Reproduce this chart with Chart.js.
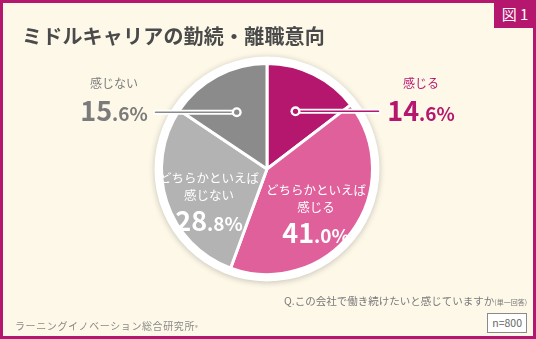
<!DOCTYPE html>
<html lang="ja">
<head>
<meta charset="utf-8">
<script src="https://cdn.jsdelivr.net/npm/chart.js@4.4.1/dist/chart.umd.min.js"></script>
<style>
  html, body { margin: 0; padding: 0; }
  body {
    width: 536px; height: 339px; overflow: hidden;
    font-family: "Noto Sans CJK JP", "Noto Sans", sans-serif;
  }
  #frame {
    position: relative; width: 536px; height: 339px; box-sizing: border-box;
    background: #fdf8e8; border: 3px solid #b5176f;
  }
  #chartWrap { position: absolute; left: -3px; top: -3px; width: 536px; height: 339px; }
  .abs { position: absolute; white-space: nowrap; }
  #title { left: 19px; top: 18px; font-size: 20px; font-weight: 700; color: #4a4a4a; letter-spacing: 0.2px; }
  #fig { right: -3px; top: -3px; width: 42px; height: 28px; background: #b5176f; color: #fff;
         font-size: 15px; line-height: 28px; text-align: center; }
  .cat { font-size: 12px; }
  .pct { font-weight: 700; font-size: 27px; line-height: 1; }
  .pct small { font-size: 19px; }
  .in { color: #fff; text-align: center; line-height: 17px; }
  .in .cat { font-size: 12.5px; }
  #q { right: 6px; top: 290px; font-size: 10.5px; color: #7a7a7a; }
  #q small { font-size: 7px; }
  #org { left: 12px; top: 315px; font-size: 10px; color: #8a8a8a; letter-spacing: 0.6px; }
  #org small { font-size: 6px; }
  #n { right: 6px; top: 310px; border: 1px solid #8a8a8a; background: #fff; color: #666;
       font-size: 10.5px; padding: 1px 4px; line-height: 16px; }
</style>
</head>
<body>
<div id="frame">
  <div id="chartWrap"><canvas id="chartCanvas"></canvas></div>
  <div class="abs" id="title">ミドルキャリアの勤続・離職意向</div>
  <div class="abs" id="fig">図 1</div>
  <div id="labels"></div>
  <div class="abs" id="q">Q.この会社で働き続けたいと感じていますか<small>(単一回答)</small></div>
  <div class="abs" id="org">ラーニングイノベーション総合研究所<small>®</small></div>
  <div class="abs" id="n">n=800</div>
</div>
<script>
// answers, clockwise from 12 o'clock
const categories = ['感じる', 'どちらかといえば感じる', 'どちらかといえば感じない', '感じない'];
const shares = [14.6, 41.0, 28.8, 15.6];
const sliceColors = ['#b5176f', '#df609b', '#b3b3b3', '#8b8b8b'];
const lineLabels = [0, 3]; // slices labelled outside with a leader line

function pctHtml(v) {
    const [i, d] = v.toFixed(1).split('.');
    return `${i}<small>.${d}%</small>`;
}

// white rim + drop shadow behind the pie
const rimPlugin = {
    id: 'rim',
    beforeDatasetsDraw(chart) {
        const arc = chart.getDatasetMeta(0).data[0];
        const ctx = chart.ctx;
        ctx.save();
        ctx.shadowColor = 'rgba(0,0,0,0.22)';
        ctx.shadowBlur = 6;
        ctx.shadowOffsetY = 1;
        ctx.fillStyle = '#ffffff';
        ctx.beginPath();
        ctx.arc(arc.x, arc.y, arc.outerRadius + 7, 0, Math.PI * 2);
        ctx.fill();
        ctx.restore();
    }
};

// leader lines from inside the slice out past the rim
const leaderPlugin = {
    id: 'leader',
    afterDatasetsDraw(chart) {
        const meta = chart.getDatasetMeta(0);
        const ctx = chart.ctx;
        lineLabels.forEach(idx => {
            const a = meta.data[idx];
            const mid = (a.startAngle + a.endAngle) / 2;
            const r = a.outerRadius * 0.61;
            const x0 = a.x + Math.cos(mid) * r;
            const y0 = a.y + Math.sin(mid) * r;
            const x1 = a.x + Math.sign(Math.cos(mid)) * (a.outerRadius + 6);
            ctx.save();
            ctx.lineCap = 'round';
            ctx.strokeStyle = '#ffffff';
            ctx.lineWidth = 5;
            ctx.beginPath(); ctx.moveTo(x0, y0); ctx.lineTo(x1, y0); ctx.stroke();
            ctx.strokeStyle = sliceColors[idx];
            ctx.lineWidth = 1.6;
            ctx.beginPath(); ctx.moveTo(x0, y0); ctx.lineTo(x1, y0); ctx.stroke();
            ctx.fillStyle = '#ffffff';
            ctx.beginPath(); ctx.arc(x0, y0, 5, 0, Math.PI * 2); ctx.fill();
            ctx.fillStyle = sliceColors[idx];
            ctx.beginPath(); ctx.arc(x0, y0, 2.6, 0, Math.PI * 2); ctx.fill();
            ctx.restore();
        });
    }
};

const chart = new Chart(document.getElementById('chartCanvas'), {
    type: 'pie',
    data: {
        labels: categories,
        datasets: [{
            data: shares,
            backgroundColor: sliceColors,
            borderColor: '#ffffff',
            borderWidth: 3,
            hoverOffset: 0
        }]
    },
    options: {
        responsive: true,
        maintainAspectRatio: false,
        animation: false,
        events: [],
        layout: { padding: { left: 160, right: 162, top: 62, bottom: 63 } },
        plugins: { legend: { display: false }, tooltip: { enabled: false } }
    },
    plugins: [rimPlugin, leaderPlugin]
});

// text labels, one block per slice
const labelSpots = [
    { left: 382, top: 71, color: '#b5176f', cls: 'out', w: 72 },
    { left: 258, top: 178, color: '#fff', cls: 'in', w: 110 },
    { left: 151, top: 166, color: '#fff', cls: 'in', w: 110 },
    { left: 75, top: 71, color: '#7b7b7b', cls: 'out', w: 72 }
];
const box = document.getElementById('labels');
categories.forEach((c, i) => {
    const s = labelSpots[i];
    const el = document.createElement('div');
    el.className = 'abs' + (s.cls === 'in' ? ' in' : '');
    el.style.left = s.left + 'px';
    el.style.top = s.top + 'px';
    el.style.width = s.w + 'px';
    el.style.textAlign = 'center';
    el.style.color = s.color;
    const name = c.startsWith('どちらかといえば')
        ? 'どちらかといえば<br>' + c.slice(8)
        : c;
    el.innerHTML = `<div class="cat">${name}</div>` +
        `<div class="pct" style="margin-top:${s.cls === 'in' ? 3 : 5}px">${pctHtml(shares[i])}</div>`;
    box.appendChild(el);
});
</script>
</body>
</html>
